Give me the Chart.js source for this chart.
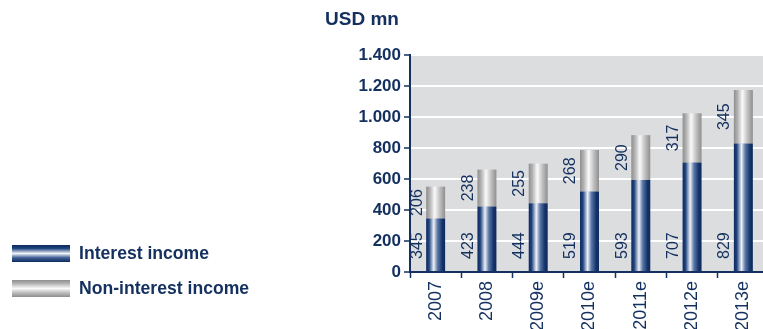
<!DOCTYPE html>
<html>
<head>
<meta charset="utf-8">
<script src="https://cdn.jsdelivr.net/npm/chart.js@4.4.1/dist/chart.umd.min.js"></script>
<style>
  html, body { margin: 0; padding: 0; background: #fff; overflow: hidden; }
  #wrap { position: relative; width: 763px; height: 329px; overflow: hidden; }
  #cv { position: absolute; left: 0; top: 0; }
  #title { position: absolute; left: 325px; top: 8px; font: bold 19px "Liberation Sans", Arial, sans-serif; color: #13305f; white-space: nowrap; }
  .leg { position: absolute; left: 12px; display: flex; align-items: center; font: bold 17.6px "Liberation Sans", Arial, sans-serif; color: #13305f; white-space: nowrap; }
  .sw { width: 58px; height: 17px; margin-right: 9px; }
</style>
</head>
<body>
<div id="wrap">
  <canvas id="cv" width="775" height="329"></canvas>
  <div id="title"></div>
  <div id="legend"></div>
</div>
<script>
const categories = ["2007", "2008", "2009e", "2010e", "2011e", "2012e", "2013e"];
const interestIncome = [345, 423, 444, 519, 593, 707, 829];
const nonInterestIncome = [206, 238, 255, 268, 290, 317, 345];
const seriesNames = ["Interest income", "Non-interest income"];
const yTicks = [0, 200, 400, 600, 800, 1000, 1200, 1400];
const unitTitle = "USD mn";

const NAVY = '#13305f';
const CAT_PCT = 1.0, BAR_PCT = 0.37;

document.getElementById('title').textContent = unitTitle;

function barGradient(kind) {
  return function (ctx) {
    const chart = ctx.chart;
    const xs = chart.scales && chart.scales.x;
    if (!xs || xs.width === undefined || ctx.dataIndex === undefined) return kind === 0 ? '#1b3d78' : '#b0b0b0';
    const cx = xs.getPixelForValue(ctx.dataIndex);
    const w = xs.width / categories.length * CAT_PCT * BAR_PCT;
    const g = chart.ctx.createLinearGradient(cx - w / 2, 0, cx + w / 2, 0);
    if (kind === 0) {
      g.addColorStop(0, '#0c2a5e');
      g.addColorStop(0.15, '#1e427e');
      g.addColorStop(0.4, '#eef1f7');
      g.addColorStop(0.6, '#5a77a6');
      g.addColorStop(0.85, '#14336a');
      g.addColorStop(1, '#0c2a5e');
    } else {
      g.addColorStop(0, '#8e8e8e');
      g.addColorStop(0.2, '#b4b4b4');
      g.addColorStop(0.45, '#fafafa');
      g.addColorStop(0.7, '#c4c4c4');
      g.addColorStop(1, '#8e8e8e');
    }
    return g;
  };
}

// legend (HTML, real text)
const legendSw = [
  'linear-gradient(to bottom, #0c2a5e 0%, #1e427e 20%, #f2f4f8 50%, #3f5f94 75%, #0c2a5e 100%)',
  'linear-gradient(to bottom, #8e8e8e 0%, #b0b0b0 20%, #fafafa 50%, #bdbdbd 75%, #8e8e8e 100%)'
];
const legTops = [243, 278];
const legEl = document.getElementById('legend');
seriesNames.forEach((n, i) => {
  const d = document.createElement('div');
  d.className = 'leg';
  d.style.top = legTops[i] + 'px';
  const s = document.createElement('div');
  s.className = 'sw';
  s.style.background = legendSw[i];
  const t = document.createElement('span');
  t.textContent = n;
  d.appendChild(s); d.appendChild(t);
  legEl.appendChild(d);
});

const plotBg = {
  id: 'plotBg',
  beforeDraw(chart) {
    const a = chart.chartArea, c = chart.ctx;
    c.save();
    c.fillStyle = '#dcdddf';
    c.fillRect(a.left, a.top, a.right - a.left, a.bottom - a.top);
    c.restore();
  }
};

const valueLabels = {
  id: 'valueLabels',
  afterDatasetsDraw(chart) {
    const c = chart.ctx;
    c.save();
    c.fillStyle = NAVY;
    c.font = '16px "Liberation Sans", Arial, sans-serif';
    const m0 = chart.getDatasetMeta(0), m1 = chart.getDatasetMeta(1);
    m0.data.forEach((el, i) => {
      const left = el.x - el.width / 2;
      c.save();
      c.translate(left - 1, el.base - 12);
      c.rotate(-Math.PI / 2);
      c.textAlign = 'left';
      c.textBaseline = 'bottom';
      c.fillText(String(interestIncome[i]), 0, 0);
      c.restore();
      const el1 = m1.data[i];
      const mid = (el1.y + el1.base) / 2;
      c.save();
      c.translate(left - 1, mid);
      c.rotate(-Math.PI / 2);
      c.textAlign = 'center';
      c.textBaseline = 'bottom';
      c.fillText(String(nonInterestIncome[i]), 0, 0);
      c.restore();
    });
    c.restore();
  }
};

new Chart(document.getElementById('cv'), {
  type: 'bar',
  data: {
    labels: categories,
    datasets: [
      { label: seriesNames[0], data: interestIncome, backgroundColor: barGradient(0), borderWidth: 0,
        categoryPercentage: CAT_PCT, barPercentage: BAR_PCT },
      { label: seriesNames[1], data: nonInterestIncome, backgroundColor: barGradient(1), borderWidth: 0,
        categoryPercentage: CAT_PCT, barPercentage: BAR_PCT }
    ]
  },
  options: {
    responsive: false,
    animation: false,
    devicePixelRatio: 1,
    layout: { padding: { top: 55, right: 6, left: 0, bottom: 0 } },
    plugins: { legend: { display: false }, tooltip: { enabled: false } },
    scales: {
      x: {
        stacked: true,
        offset: true,
        afterFit(s) { s.height = 57; },
        grid: { display: true, drawOnChartArea: false, offset: true, tickLength: 6, tickColor: NAVY, tickWidth: 1.5 },
        border: { display: true, color: NAVY, width: 2 },
        ticks: {
          minRotation: 90, maxRotation: 90, autoSkip: false, padding: 3,
          color: NAVY, font: { family: '"Liberation Sans", Arial, sans-serif', size: 18 }
        }
      },
      y: {
        stacked: true,
        min: 0, max: 1400,
        afterFit(s) { s.width = 410; },
        afterBuildTicks(s) { s.ticks = yTicks.map(v => ({ value: v })); },
        grid: { color: '#ffffff', lineWidth: 2, tickLength: 6, tickColor: NAVY, tickWidth: 1.5 },
        border: { display: true, color: NAVY, width: 2 },
        ticks: {
          padding: 3,
          color: NAVY,
          font: { family: '"Liberation Sans", Arial, sans-serif', size: 17, weight: 'bold' },
          callback: v => String(v).replace(/\B(?=(\d{3})+(?!\d))/g, '.')
        }
      }
    }
  },
  plugins: [plotBg, valueLabels]
});
</script>
</body>
</html>
